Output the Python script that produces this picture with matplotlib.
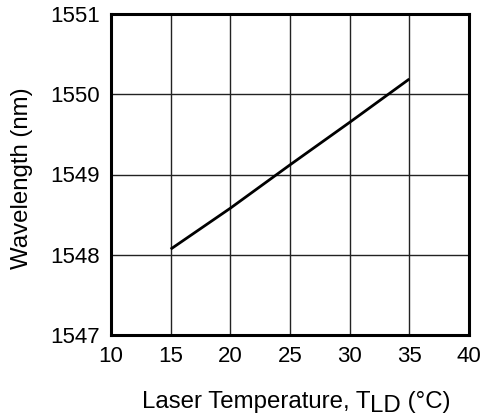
import matplotlib
matplotlib.use("Agg")
import matplotlib.pyplot as plt

# values
temperature = [15, 20, 25, 30, 35]
wavelength = [1548.07, 1548.58, 1549.12, 1549.65, 1550.19]
x_ticks = [10, 15, 20, 25, 30, 35, 40]
y_ticks = [1547, 1548, 1549, 1550, 1551]

plt.rcParams['font.family'] = ['Liberation Sans', 'DejaVu Sans']
TICK_SIZE = 16
LABEL_SIZE = 17.3

fig = plt.figure(figsize=(4.82, 4.18), dpi=100)
ax = fig.add_axes([111 / 482, 1 - 335 / 418, 358 / 482, 321 / 418])

ax.plot(temperature, wavelength, color='black', linewidth=2.0, solid_capstyle='butt', zorder=3)

ax.set_xlim(10, 40)
ax.set_ylim(1547, 1551)
ax.set_xticks(x_ticks)
ax.set_yticks(y_ticks)
ax.set_xticklabels([str(v) for v in x_ticks])
ax.set_yticklabels([str(v) for v in y_ticks])
ax.tick_params(length=0, labelsize=TICK_SIZE, pad=8)
ax.grid(True, color='#222222', linewidth=1.0)
ax.set_axisbelow(True)
for spine in ax.spines.values():
    spine.set_linewidth(2.2)

fig.text(22 / 482, 1 - 178 / 418, "Wavelength (nm)", fontsize=LABEL_SIZE,
         rotation=90, ha='center', va='center')

# x label with a lowered "LD" subscript at nearly full size
fig.canvas.draw()
renderer = fig.canvas.get_renderer()
parts = [("Laser Temperature, T", 0), ("LD", -4), (" (°C)", 0)]
widths = []
for s, _ in parts:
    t = fig.text(0, 0, s, fontsize=LABEL_SIZE)
    widths.append(t.get_window_extent(renderer).width)
    t.remove()
total = sum(widths)
cur = 296 - total / 2
y_base = 418 - 408
for (s, dy), w in zip(parts, widths):
    fig.text(cur / 482, (y_base + dy) / 418, s, fontsize=LABEL_SIZE, va='baseline', ha='left')
    cur += w

fig.savefig("out.png", dpi=100)
